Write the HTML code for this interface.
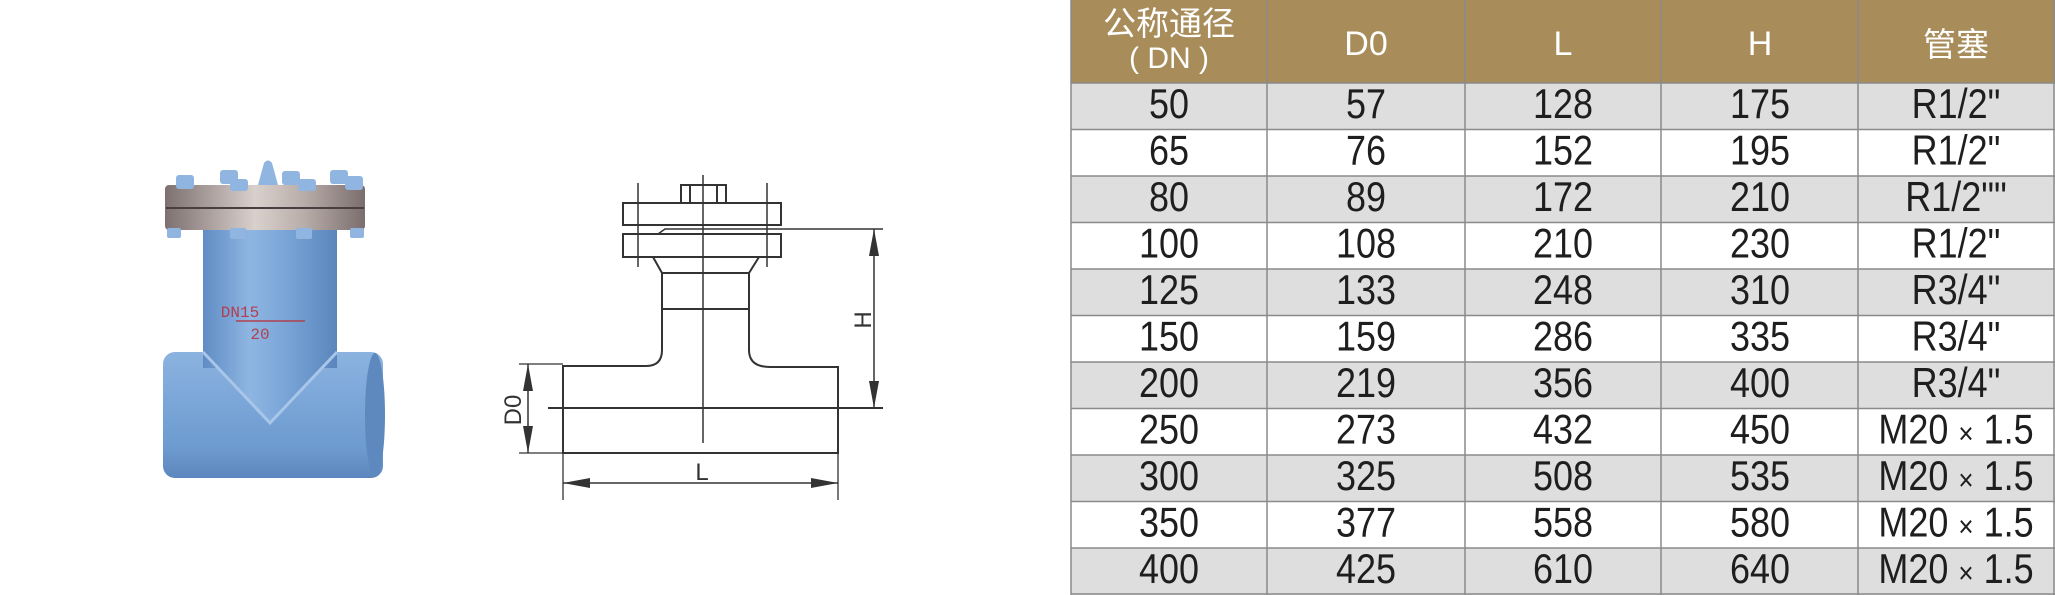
<!DOCTYPE html>
<html><head><meta charset="utf-8"><style>
html,body{margin:0;padding:0;background:#fff;}
svg{display:block;}
.t{font-family:"Liberation Sans","Noto Sans CJK SC",sans-serif;fill:#1e1e1e;font-size:36px;text-anchor:middle;}
.h{font-family:"Liberation Sans","Noto Sans CJK SC",sans-serif;fill:#fff;text-anchor:middle;}
.d{font-family:"Liberation Sans",sans-serif;fill:#333;font-size:24px;text-anchor:middle;}
.x{font-size:26px;}
</style></head><body>
<svg width="2055" height="595" viewBox="0 0 2055 595" xmlns="http://www.w3.org/2000/svg">
<defs>
<linearGradient id="blueH" x1="0" x2="1" y1="0" y2="0">
<stop offset="0" stop-color="#5f8cc4"/><stop offset="0.35" stop-color="#8fb6e2"/><stop offset="0.6" stop-color="#7ba6d8"/><stop offset="1" stop-color="#5a86bd"/></linearGradient>
<linearGradient id="blueV" x1="0" x2="0" y1="0" y2="1">
<stop offset="0" stop-color="#8cb3df"/><stop offset="0.4" stop-color="#7aa6d8"/><stop offset="0.75" stop-color="#6e9bd0"/><stop offset="1" stop-color="#5c87be"/></linearGradient>
<linearGradient id="fl" x1="0" x2="1" y1="0" y2="0">
<stop offset="0" stop-color="#7d7070"/><stop offset="0.45" stop-color="#d9d0cc"/><stop offset="0.7" stop-color="#b8aca8"/><stop offset="1" stop-color="#7a6d6d"/></linearGradient>
</defs>

<rect x="163" y="352" width="220" height="126" rx="12" fill="url(#blueV)"/>
<ellipse cx="375" cy="415" rx="10" ry="62" fill="#5d89bf"/>
<rect x="203" y="228" width="134" height="140" fill="url(#blueH)"/>
<path d="M203 360 L203 352 L270 423 L337 352 L337 360 Z" fill="url(#blueH)"/>
<path d="M203 352 L270 423 L337 352" fill="none" stroke="#a9c6e8" stroke-width="3"/>
<rect x="165" y="185" width="200" height="45" rx="4" fill="url(#fl)"/>
<line x1="166" y1="208" x2="364" y2="208" stroke="#4a3f40" stroke-width="2"/>
<path d="M258 185 L264 163 Q268 158 272 163 L278 185 Z" fill="#8fb5e0"/>
<g fill="#8fb5e0">
<rect x="176" y="175" width="18" height="14" rx="3"/>
<rect x="220" y="170" width="18" height="14" rx="3"/>
<rect x="230" y="179" width="18" height="12" rx="3"/>
<rect x="282" y="171" width="18" height="14" rx="3"/>
<rect x="298" y="179" width="18" height="12" rx="3"/>
<rect x="330" y="170" width="18" height="14" rx="3"/>
<rect x="345" y="176" width="18" height="14" rx="3"/>
<rect x="230" y="228" width="16" height="11" rx="2"/>
<rect x="296" y="228" width="16" height="11" rx="2"/>
<rect x="167" y="228" width="14" height="10" rx="2"/>
<rect x="350" y="228" width="14" height="10" rx="2"/>
</g>
<text x="240" y="317" font-family="Liberation Mono,monospace" font-size="16" fill="#b04050" text-anchor="middle">DN15</text>
<line x1="236" y1="321" x2="305" y2="321" stroke="#b04050" stroke-width="1.5"/>
<text x="260" y="339" font-family="Liberation Mono,monospace" font-size="16" fill="#b04050" text-anchor="middle">20</text>

<g fill="none" stroke="#333" stroke-width="2">
<rect x="623" y="203" width="158" height="22"/>
<rect x="623" y="234" width="158" height="23"/>
<rect x="681" y="185" width="45" height="18"/>
<line x1="690" y1="185" x2="690" y2="203"/><line x1="717" y1="185" x2="717" y2="203"/>
<line x1="638" y1="183" x2="638" y2="267" stroke-width="1.5"/>
<line x1="767" y1="183" x2="767" y2="267" stroke-width="1.5"/>
<path d="M658 234 L665 229 L883 229" stroke-width="1.5"/>
<path d="M653 257 L662 273 L749 273 L759 257"/>
<line x1="662" y1="309" x2="749" y2="309"/>
<path d="M662 273 L662 350 Q662 366 646 366 L563 366 L563 453 L838 453 L838 367 L770 367 Q749 367 749 350 L749 273"/>
<line x1="548" y1="408" x2="883" y2="408"/>
<line x1="703" y1="175" x2="703" y2="443" stroke-width="1.5"/>
<line x1="519" y1="364" x2="563" y2="364" stroke-width="1.3"/>
<line x1="519" y1="453" x2="563" y2="453" stroke-width="1.3"/>
<line x1="528" y1="364" x2="528" y2="453" stroke-width="1.5"/>
<line x1="874" y1="229" x2="874" y2="408" stroke-width="1.5"/>
<line x1="563" y1="453" x2="563" y2="500" stroke-width="1.3"/>
<line x1="838" y1="453" x2="838" y2="500" stroke-width="1.3"/>
<line x1="563" y1="483" x2="838" y2="483" stroke-width="1.5"/>
</g>
<g fill="#333">
<path d="M874 229 L869 256 L879 256 Z"/><path d="M874 408 L869 381 L879 381 Z"/>
<path d="M528 364 L523 391 L533 391 Z"/><path d="M528 453 L523 426 L533 426 Z"/>
<path d="M563 483 L590 478 L590 488 Z"/><path d="M838 483 L811 478 L811 488 Z"/>
</g>
<text class="d" x="702" y="480">L</text>
<text class="d" transform="translate(871 320) rotate(-90)">H</text>
<text class="d" transform="translate(521 410) rotate(-90)">D0</text>

<rect x="1071" y="0" width="984" height="83" fill="#a88d5b"/>
<g>
<rect x="1071" y="83" width="984" height="46.5" fill="#dedede"/>
<rect x="1071" y="176" width="984" height="46.5" fill="#dedede"/>
<rect x="1071" y="269" width="984" height="46.5" fill="#dedede"/>
<rect x="1071" y="362" width="984" height="46.5" fill="#dedede"/>
<rect x="1071" y="455" width="984" height="46.5" fill="#dedede"/>
<rect x="1071" y="548" width="984" height="47" fill="#dedede"/>
</g>
<g stroke="#8a8a8a" stroke-width="1.5">
<line x1="1071" y1="0" x2="1071" y2="595"/>
<line x1="1267" y1="0" x2="1267" y2="595"/>
<line x1="1465" y1="0" x2="1465" y2="595"/>
<line x1="1661" y1="0" x2="1661" y2="595"/>
<line x1="1858" y1="0" x2="1858" y2="595"/>
<line x1="2054" y1="0" x2="2054" y2="595"/>
<line x1="1071" y1="83" x2="2055" y2="83"/>
<line x1="1071" y1="129.5" x2="2055" y2="129.5"/>
<line x1="1071" y1="176" x2="2055" y2="176"/>
<line x1="1071" y1="222.5" x2="2055" y2="222.5"/>
<line x1="1071" y1="269" x2="2055" y2="269"/>
<line x1="1071" y1="315.5" x2="2055" y2="315.5"/>
<line x1="1071" y1="362" x2="2055" y2="362"/>
<line x1="1071" y1="408.5" x2="2055" y2="408.5"/>
<line x1="1071" y1="455" x2="2055" y2="455"/>
<line x1="1071" y1="501.5" x2="2055" y2="501.5"/>
<line x1="1071" y1="548" x2="2055" y2="548"/>
<line x1="1071" y1="594" x2="2055" y2="594"/>
</g>
<text class="h" x="1169" y="35" font-size="33">公称通径</text>
<text class="h" x="1169" y="68" font-size="30">( DN )</text>
<text class="h" x="1366" y="55" font-size="34">D0</text>
<text class="h" x="1563" y="55" font-size="34">L</text>
<text class="h" x="1760" y="55" font-size="34">H</text>
<text class="h" x="1956" y="56" font-size="33">管塞</text>

<g class="t">
<g transform="translate(0 118) scale(1 1.15)"><text x="1169" y="0">50</text><text x="1366" y="0">57</text><text x="1563" y="0">128</text><text x="1760" y="0">175</text><text x="1956" y="0">R1/2"</text></g>
<g transform="translate(0 164.5) scale(1 1.15)"><text x="1169" y="0">65</text><text x="1366" y="0">76</text><text x="1563" y="0">152</text><text x="1760" y="0">195</text><text x="1956" y="0">R1/2"</text></g>
<g transform="translate(0 211) scale(1 1.15)"><text x="1169" y="0">80</text><text x="1366" y="0">89</text><text x="1563" y="0">172</text><text x="1760" y="0">210</text><text x="1956" y="0">R1/2""</text></g>
<g transform="translate(0 257.5) scale(1 1.15)"><text x="1169" y="0">100</text><text x="1366" y="0">108</text><text x="1563" y="0">210</text><text x="1760" y="0">230</text><text x="1956" y="0">R1/2"</text></g>
<g transform="translate(0 304) scale(1 1.15)"><text x="1169" y="0">125</text><text x="1366" y="0">133</text><text x="1563" y="0">248</text><text x="1760" y="0">310</text><text x="1956" y="0">R3/4"</text></g>
<g transform="translate(0 350.5) scale(1 1.15)"><text x="1169" y="0">150</text><text x="1366" y="0">159</text><text x="1563" y="0">286</text><text x="1760" y="0">335</text><text x="1956" y="0">R3/4"</text></g>
<g transform="translate(0 397) scale(1 1.15)"><text x="1169" y="0">200</text><text x="1366" y="0">219</text><text x="1563" y="0">356</text><text x="1760" y="0">400</text><text x="1956" y="0">R3/4"</text></g>
<g transform="translate(0 443.5) scale(1 1.15)"><text x="1169" y="0">250</text><text x="1366" y="0">273</text><text x="1563" y="0">432</text><text x="1760" y="0">450</text><text x="1956" y="0">M20 <tspan class="x">×</tspan> 1.5</text></g>
<g transform="translate(0 490) scale(1 1.15)"><text x="1169" y="0">300</text><text x="1366" y="0">325</text><text x="1563" y="0">508</text><text x="1760" y="0">535</text><text x="1956" y="0">M20 <tspan class="x">×</tspan> 1.5</text></g>
<g transform="translate(0 536.5) scale(1 1.15)"><text x="1169" y="0">350</text><text x="1366" y="0">377</text><text x="1563" y="0">558</text><text x="1760" y="0">580</text><text x="1956" y="0">M20 <tspan class="x">×</tspan> 1.5</text></g>
<g transform="translate(0 583) scale(1 1.15)"><text x="1169" y="0">400</text><text x="1366" y="0">425</text><text x="1563" y="0">610</text><text x="1760" y="0">640</text><text x="1956" y="0">M20 <tspan class="x">×</tspan> 1.5</text></g>
</g>
</svg>
</body></html>
